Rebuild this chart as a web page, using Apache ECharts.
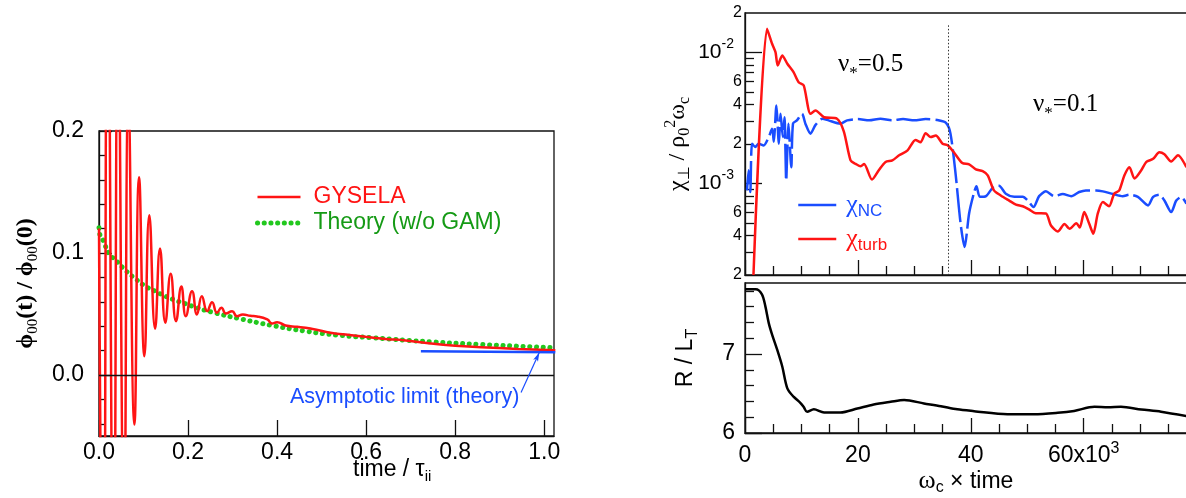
<!DOCTYPE html>
<html>
<head>
<meta charset="utf-8">
<script src="https://cdn.jsdelivr.net/npm/echarts@6/dist/echarts.min.js"></script>
<style>
html, body { margin: 0; padding: 0; background: #fff; }
#main { width: 1186px; height: 498px; }
</style>
</head>
<body>
<div id="main"></div>
<script>
// left panel : zonal potential relaxation, time in tau_ii
var gyselaPoints = [[0, 0.12], [0.0096, -0.26], [0.0194, 0.37], [0.0329, -0.19], [0.0427, 0.30], [0.0562, -0.13],
  [0.066, 0.23], [0.0795, -0.0406], [0.090, 0.162], [0.102, 0.0154], [0.113, 0.131], [0.126, 0.038],
  [0.137, 0.1037], [0.149, 0.0428], [0.161, 0.083], [0.173, 0.0441], [0.185, 0.0725], [0.195, 0.0482],
  [0.209, 0.0687], [0.220, 0.0496], [0.231, 0.0646], [0.243, 0.0523], [0.254, 0.0597], [0.265, 0.051],
  [0.275, 0.0551], [0.285, 0.0504], [0.299, 0.0523], [0.310, 0.0482], [0.323, 0.0496], [0.340, 0.0485],
  [0.355, 0.048], [0.378, 0.0455], [0.389, 0.0422], [0.400, 0.0433], [0.419, 0.0406], [0.445, 0.0395],
  [0.464, 0.0387], [0.486, 0.0373], [0.520, 0.0346], [0.554, 0.0332], [0.599, 0.0313], [0.644, 0.0296],
  [0.689, 0.0283], [0.745, 0.0258], [0.800, 0.0240], [0.858, 0.0228], [0.940, 0.0214], [1.025, 0.0203]];
var theoryPoints = [[0, 0.1206], [0.002, 0.115], [0.01, 0.1097], [0.023, 0.0988], [0.036, 0.0947], [0.059, 0.0859],
  [0.081, 0.0791], [0.104, 0.0728], [0.126, 0.0687], [0.149, 0.0646], [0.171, 0.0613], [0.194, 0.0584],
  [0.216, 0.0556], [0.254, 0.0515], [0.314, 0.0463], [0.389, 0.0406], [0.464, 0.0359], [0.539, 0.0326],
  [0.614, 0.0305], [0.689, 0.0285], [0.745, 0.0272], [0.858, 0.025], [1.025, 0.0223]];
var asymptotePoints = [[0.723, 0.0195], [1.025, 0.0187]];
var arrowPoints = [[0.948, -0.0143], [0.989, 0.0184]];
var leftXTicks = [0, 0.2, 0.4, 0.6, 0.8, 1.0];
var leftYTicks = [0, 0.1, 0.2];
var leftYMinor = [-0.04, -0.02, 0.02, 0.04, 0.06, 0.08, 0.12, 0.14, 0.16, 0.18];

// right panels : time in units of 10^3 / omega_c
var ncPoints = [[0.35, 0.000885], [0.65, 0.00126], [0.94, 0.00086], [1.24, 0.00201], [1.83, 0.0019], [2.4, 0.00201],
  [3.3, 0.00195], [4.2, 0.00226], [4.8, 0.00262], [5.1, 0.00208], [5.56, 0.00394], [6.0, 0.00201], [6.3, 0.0034],
  [6.7, 0.00226], [7.0, 0.0032], [7.3, 0.00105], [7.7, 0.00286], [8.2, 0.00133], [8.5, 0.00286], [9.2, 0.00303],
  [10.1, 0.0034], [10.7, 0.00286], [11.6, 0.0024], [12.5, 0.0028], [13.7, 0.00312], [14.8, 0.00303],
  [16.9, 0.00286], [18.1, 0.00303], [20.0, 0.0031], [22.0, 0.00303], [24.0, 0.00312], [26.0, 0.00303],
  [28.0, 0.0031], [30.0, 0.00303], [32.0, 0.0031], [34.0, 0.00305], [35.6, 0.0029], [36.4, 0.0024],
  [37.3, 0.00119], [38.2, 0.00049], [38.9, 0.000327], [39.7, 0.00059], [40.6, 0.00086], [41.0, 0.00095],
  [41.6, 0.00079], [42.7, 0.0008], [44.1, 0.00095], [45.0, 0.00096], [46.2, 0.000834], [47.7, 0.00079],
  [49.2, 0.00079], [50.1, 0.00074], [51.1, 0.00066], [52.1, 0.0008], [53.3, 0.00087], [54.8, 0.0008],
  [56.3, 0.00083], [57.8, 0.0008], [59.2, 0.00086], [60.4, 0.000885], [62.2, 0.000885], [63.4, 0.00087],
  [65.2, 0.00083], [66.9, 0.0008], [68.1, 0.00082], [69.6, 0.00079], [71.4, 0.00068], [72.3, 0.00079],
  [73.4, 0.00082], [74.3, 0.00074], [75.5, 0.000604], [76.4, 0.00074], [77.3, 0.00079], [78.2, 0.0007]];
var turbPoints = [[1.5, 0.0002], [3.9, 0.01517], [4.8, 0.01165], [5.4, 0.01005], [5.8, 0.00796], [6.6, 0.00948],
  [7.5, 0.0082], [8.6, 0.00708], [9.5, 0.00593], [10.4, 0.0056], [11.6, 0.0034], [12.5, 0.0036], [14.0, 0.0032],
  [16.3, 0.00312], [17.5, 0.00250], [18.7, 0.0015], [19.6, 0.00141], [20.5, 0.00135], [21.1, 0.00141],
  [22.5, 0.00107], [23.7, 0.00126], [24.9, 0.00146], [26.1, 0.0015], [27.3, 0.00164], [28.8, 0.00179],
  [30.2, 0.00215], [31.1, 0.00206], [32.0, 0.00242], [32.9, 0.00226], [33.8, 0.00232], [35.0, 0.00201],
  [35.9, 0.00196], [37.0, 0.00173], [38.5, 0.00143], [39.7, 0.0014], [40.9, 0.00128], [42.1, 0.00124],
  [43.0, 0.00115], [44.1, 0.000885], [45.3, 0.00081], [46.8, 0.00074], [48.0, 0.00069], [49.2, 0.00067],
  [50.3, 0.000634], [51.5, 0.000593], [53.3, 0.00059], [54.2, 0.000477], [55.4, 0.00043], [56.6, 0.00049],
  [57.5, 0.00045], [58.7, 0.000497], [59.3, 0.00046], [60.1, 0.000604], [61.0, 0.00049], [61.7, 0.000413],
  [62.5, 0.00059], [63.4, 0.00072], [64.5, 0.00067], [65.4, 0.000834], [66.3, 0.000885], [67.2, 0.00115],
  [68.1, 0.00133], [69.0, 0.00109], [70.2, 0.00126], [71.1, 0.00146], [72.3, 0.00154], [73.4, 0.00173],
  [74.3, 0.00167], [75.5, 0.00147], [76.7, 0.00164], [78.2, 0.00133]];
var gradPoints = [[0, 7.82], [1.9, 7.82], [3.0, 7.756], [3.6, 7.607], [4.2, 7.395], [4.8, 7.246], [5.7, 7.055],
  [6.6, 6.842], [7.5, 6.566], [8.6, 6.46], [9.8, 6.383], [10.4, 6.33], [11.0, 6.268], [12.2, 6.30], [14.0, 6.26],
  [16.9, 6.26], [19.9, 6.31], [22.8, 6.362], [25.8, 6.395], [28.2, 6.417], [31.7, 6.375], [34.7, 6.34],
  [37.6, 6.30], [40.6, 6.277], [46.5, 6.238], [51.2, 6.236], [55.4, 6.255], [58.3, 6.28], [61.9, 6.332],
  [64.3, 6.325], [66.6, 6.332], [70.2, 6.298], [73.7, 6.27], [78.3, 6.213]];
var splitTime = 36;
var timeMajor = [0, 20, 40, 60];
var timeMinor = [5, 10, 15, 25, 30, 35, 45, 50, 55, 65, 70, 75];
var chiMajor = [0.001, 0.01];
var chiMinor = [0.0003, 0.0004, 0.0005, 0.0006, 0.0007, 0.0008, 0.0009,
  0.002, 0.003, 0.004, 0.005, 0.006, 0.007, 0.008, 0.009];
var chiLabels = [0.0002, 0.0004, 0.0006, 0.002, 0.004, 0.006, 0.02];
var gradMajor = [6, 7];
var gradMinor = [6.2, 6.4, 6.6, 6.8, 7.2, 7.4, 7.6, 7.8];

var SANS = '"Liberation Sans", Arial, sans-serif';
var SERIF = '"Liberation Serif", "Times New Roman", serif';
var RED = '#ff1414';
var GREEN = '#22c81e';
var BLUE = '#1a4dff';
var INK = '#111';
var NO_SYMBOL = { color: 'rgba(0,0,0,0)', borderColor: 'rgba(0,0,0,0)', borderWidth: 0 };

var chiMin = 0.0002, chiMax = 0.02;
var lg = function (v) { return Math.log10(v); };

function tickAxis(extra) {
  var base = {
    type: 'value',
    splitLine: { show: false },
    axisLine: { show: false, onZero: false },
    axisTick: { show: true, inside: true, length: 7, lineStyle: { color: INK, width: 1.3 } },
    axisLabel: { show: false }
  };
  return echarts.util.merge(base, extra, true);
}

var chart = echarts.init(document.getElementById('main'));

var option = {
  animation: false,
  backgroundColor: '#fff',
  textStyle: { fontFamily: SANS },
  grid: [
    { left: 99, top: 131, width: 455, height: 305, show: true, borderColor: INK, borderWidth: 1.3, outerBoundsMode: 'none' },
    { left: 745, top: 13, width: 442, height: 262, show: true, borderColor: INK, borderWidth: 1.3, outerBoundsMode: 'none' },
    { left: 745, top: 283, width: 442, height: 150, show: true, borderColor: INK, borderWidth: 1.3, outerBoundsMode: 'none' }
  ],
  legend: [
    {
      orient: 'vertical', left: 250, top: 179, itemWidth: 43, itemHeight: 14, itemGap: 0,
      textStyle: { fontFamily: SANS, fontSize: 23, lineHeight: 26, padding: [0, 0, 0, 8] },
      data: [
        { name: 'GYSELA', textStyle: { color: RED }, lineStyle: { width: 2.5 }, itemStyle: NO_SYMBOL },
        { name: 'Theory (w/o GAM)', textStyle: { color: '#159a15' }, lineStyle: { width: 5 }, itemStyle: NO_SYMBOL }
      ]
    },
    {
      orient: 'vertical', left: 792, top: 185, itemWidth: 38, itemHeight: 14, itemGap: 4,
      textStyle: {
        fontSize: 23, lineHeight: 30, padding: [0, 0, 0, 5],
        rich: {
          g: { fontFamily: SERIF, fontSize: 26, lineHeight: 30 },
          s: { fontFamily: SANS, fontSize: 17, lineHeight: 22, verticalAlign: 'bottom' }
        }
      },
      formatter: function (name) { return '{g|χ}{s|' + name.slice(1) + '}'; },
      data: [
        { name: 'χNC', textStyle: { color: BLUE }, lineStyle: { width: 2.5, type: 'solid' }, itemStyle: NO_SYMBOL },
        { name: 'χturb', textStyle: { color: RED }, lineStyle: { width: 2.5 }, itemStyle: NO_SYMBOL }
      ]
    }
  ],
  xAxis: [
    tickAxis({
      gridIndex: 0, min: 0, max: 1.022, position: 'bottom',
      axisLine: { show: true, lineStyle: { color: INK, width: 1.3 } },
      axisTick: { length: 16, customValues: leftXTicks },
      axisLabel: {
        show: true, customValues: leftXTicks, margin: 5, fontSize: 23, color: '#000', fontFamily: SANS,
        formatter: function (v) { return v.toFixed(1); }
      }
    }),
    tickAxis({
      gridIndex: 1, min: 0, max: 78.3, position: 'bottom',
      axisLine: { show: true, lineStyle: { color: INK, width: 1.3 } },
      axisTick: { length: 15, customValues: timeMajor }
    }),
    tickAxis({ gridIndex: 1, min: 0, max: 78.3, position: 'bottom', axisTick: { length: 9, customValues: timeMinor } }),
    tickAxis({
      gridIndex: 2, min: 0, max: 78.3, position: 'bottom',
      axisLine: { show: true, lineStyle: { color: INK, width: 1.3 } },
      axisTick: { length: 15, customValues: timeMajor },
      axisLabel: {
        show: true, customValues: timeMajor, margin: 8, color: '#000',
        rich: {
          n: { fontFamily: SANS, fontSize: 23, lineHeight: 30 },
          sup: { fontFamily: SANS, fontSize: 16, lineHeight: 16, verticalAlign: 'top' }
        },
        formatter: function (v) { return v === 60 ? '{n|60x10}{sup|3}' : '{n|' + v + '}'; }
      },
      name: '{w|ω}{s|c}{t| × time}', nameLocation: 'middle', nameGap: 30,
      nameTextStyle: {
        color: '#000',
        rich: {
          w: { fontFamily: SERIF, fontSize: 26, lineHeight: 28 },
          s: { fontFamily: SANS, fontSize: 16, lineHeight: 16, verticalAlign: 'bottom' },
          t: { fontFamily: SANS, fontSize: 23, lineHeight: 28 }
        }
      }
    }),
    tickAxis({ gridIndex: 2, min: 0, max: 78.3, position: 'bottom', axisTick: { length: 9, customValues: timeMinor } })
  ],
  yAxis: [
    tickAxis({
      gridIndex: 0, min: -0.05, max: 0.2, position: 'left',
      axisLine: { show: true, lineStyle: { color: INK, width: 1.3 } },
      axisTick: { length: 13, customValues: leftYTicks },
      axisLabel: {
        show: true, customValues: leftYTicks, margin: 15, fontSize: 23, color: '#000', fontFamily: SANS,
        formatter: function (v) { return v.toFixed(1); }
      },
      name: '{m|ϕ}{s|00}{m|(t) / ϕ}{s|00}{m|(0)}', nameLocation: 'middle', nameGap: 58,
      nameTextStyle: {
        color: '#000',
        rich: {
          m: { fontFamily: SERIF, fontSize: 24, fontWeight: 'bold', lineHeight: 30 },
          s: { fontFamily: SERIF, fontSize: 15, lineHeight: 18, verticalAlign: 'bottom' }
        }
      }
    }),
    tickAxis({ gridIndex: 0, min: -0.05, max: 0.2, position: 'left', axisTick: { length: 6, customValues: leftYMinor } }),
    {
      type: 'log', logBase: 10, gridIndex: 1, min: chiMin, max: chiMax, position: 'left',
      splitLine: { show: false },
      axisLine: { show: true, lineStyle: { color: INK, width: 1.3 } },
      axisTick: { show: false }, axisLabel: { show: false },
      name: '{m|χ}{s|⊥}{m| / ρ}{s|0}{p|2}{m|ω}{s|c}', nameLocation: 'middle', nameGap: 52,
      nameTextStyle: {
        color: '#000',
        rich: {
          m: { fontFamily: SERIF, fontSize: 24, lineHeight: 30 },
          s: { fontFamily: SERIF, fontSize: 16, lineHeight: 18, verticalAlign: 'bottom' },
          p: { fontFamily: SERIF, fontSize: 16, lineHeight: 18, verticalAlign: 'top' }
        }
      }
    },
    tickAxis({
      gridIndex: 1, min: lg(chiMin), max: lg(chiMax), position: 'left',
      axisTick: { length: 17, customValues: chiMajor.map(lg) },
      axisLabel: {
        show: true, customValues: chiMajor.map(lg), margin: 11, color: '#000',
        rich: {
          n: { fontFamily: SANS, fontSize: 21, lineHeight: 30 },
          sup: { fontFamily: SANS, fontSize: 14, lineHeight: 14, verticalAlign: 'top' }
        },
        formatter: function (v) { return '{n|10}{sup|' + Math.round(v) + '}'; }
      }
    }),
    tickAxis({
      gridIndex: 1, min: lg(chiMin), max: lg(chiMax), position: 'left',
      axisTick: { length: 9, customValues: chiMinor.map(lg) },
      axisLabel: {
        show: true, customValues: chiLabels.map(lg), margin: 3, fontSize: 16, color: '#000', fontFamily: SANS,
        formatter: function (v) { return String(Math.round(Math.pow(10, v - Math.floor(v + 1e-9)))); }
      }
    }),
    tickAxis({
      gridIndex: 2, min: 6, max: 7.9, position: 'left',
      axisLine: { show: true, lineStyle: { color: INK, width: 1.3 } },
      axisTick: { length: 17, customValues: gradMajor },
      axisLabel: { show: true, customValues: gradMajor, margin: 10, fontSize: 23, color: '#000', fontFamily: SANS },
      name: '{m|R / L}{s|T}', nameLocation: 'middle', nameGap: 44,
      nameTextStyle: {
        color: '#000',
        rich: {
          m: { fontFamily: SANS, fontSize: 23, lineHeight: 30 },
          s: { fontFamily: SANS, fontSize: 16, lineHeight: 18, verticalAlign: 'bottom' }
        }
      }
    }),
    tickAxis({ gridIndex: 2, min: 6, max: 7.9, position: 'left', axisTick: { length: 9, customValues: gradMinor } })
  ],
  series: [
    {
      name: 'Theory (w/o GAM)', type: 'line', xAxisIndex: 0, yAxisIndex: 0, data: theoryPoints,
      smooth: true, symbol: 'none', z: 3,
      itemStyle: { color: GREEN },
      lineStyle: { color: GREEN, width: 5, type: [0.1, 6.6], cap: 'round' }
    },
    {
      name: 'GYSELA', type: 'line', xAxisIndex: 0, yAxisIndex: 0, data: gyselaPoints,
      smooth: 0.5, symbol: 'none', z: 4,
      itemStyle: { color: RED },
      lineStyle: { color: RED, width: 2.5 },
      markLine: {
        silent: true, symbol: 'none', label: { show: false },
        lineStyle: { color: INK, width: 1.3, type: 'solid' },
        data: [{ yAxis: 0 }]
      }
    },
    {
      name: 'asymptote', type: 'line', xAxisIndex: 0, yAxisIndex: 0, data: asymptotePoints,
      symbol: 'none', z: 5,
      itemStyle: { color: BLUE },
      lineStyle: { color: BLUE, width: 2.5 },
      markLine: {
        silent: true, symbol: ['none', 'arrow'], symbolSize: [4, 9], label: { show: false },
        lineStyle: { color: BLUE, width: 1.2, type: 'solid' },
        data: [[{ coord: arrowPoints[0] }, { coord: arrowPoints[1] }]]
      }
    },
    {
      name: 'χNC', type: 'line', xAxisIndex: 1, yAxisIndex: 2, data: ncPoints,
      smooth: 0.25, symbol: 'none', z: 3,
      itemStyle: { color: BLUE },
      lineStyle: { color: BLUE, width: 2.5, type: [34, 5] },
      markLine: {
        silent: true, symbol: 'none', label: { show: false },
        lineStyle: { color: '#333', width: 1, type: [1.5, 2] },
        data: [[{ coord: [splitTime, 0.0161] }, { coord: [splitTime, chiMin] }]]
      }
    },
    {
      name: 'χturb', type: 'line', xAxisIndex: 1, yAxisIndex: 2, data: turbPoints,
      smooth: 0.25, symbol: 'none', z: 4,
      itemStyle: { color: RED },
      lineStyle: { color: RED, width: 2.5 }
    },
    {
      name: 'R/LT', type: 'line', xAxisIndex: 3, yAxisIndex: 5, data: gradPoints,
      smooth: 0.3, symbol: 'none',
      itemStyle: { color: '#000' },
      lineStyle: { color: '#000', width: 2.5 }
    }
  ],
  graphic: [
    {
      type: 'text', x: 290, y: 397,
      style: { text: 'Asymptotic limit (theory)', fill: BLUE, font: '21.5px ' + SANS, verticalAlign: 'middle' }
    },
    {
      type: 'text', x: 353, y: 470,
      style: {
        text: '{m|time / τ}{s|ii}', verticalAlign: 'middle', fill: '#000',
        rich: {
          m: { fontFamily: SANS, fontSize: 23, lineHeight: 28 },
          s: { fontFamily: SANS, fontSize: 15, lineHeight: 16, verticalAlign: 'bottom' }
        }
      }
    },
    {
      type: 'text', x: 838, y: 64,
      style: {
        text: '{m|ν}{s|*}{m|=0.5}', verticalAlign: 'middle', fill: '#000',
        rich: {
          m: { fontFamily: SERIF, fontSize: 25, lineHeight: 36 },
          s: { fontFamily: SERIF, fontSize: 17, lineHeight: 16, verticalAlign: 'bottom' }
        }
      }
    },
    {
      type: 'text', x: 1033, y: 104,
      style: {
        text: '{m|ν}{s|*}{m|=0.1}', verticalAlign: 'middle', fill: '#000',
        rich: {
          m: { fontFamily: SERIF, fontSize: 25, lineHeight: 36 },
          s: { fontFamily: SERIF, fontSize: 17, lineHeight: 16, verticalAlign: 'bottom' }
        }
      }
    }
  ]
};

chart.setOption(option);
</script>
</body>
</html>
